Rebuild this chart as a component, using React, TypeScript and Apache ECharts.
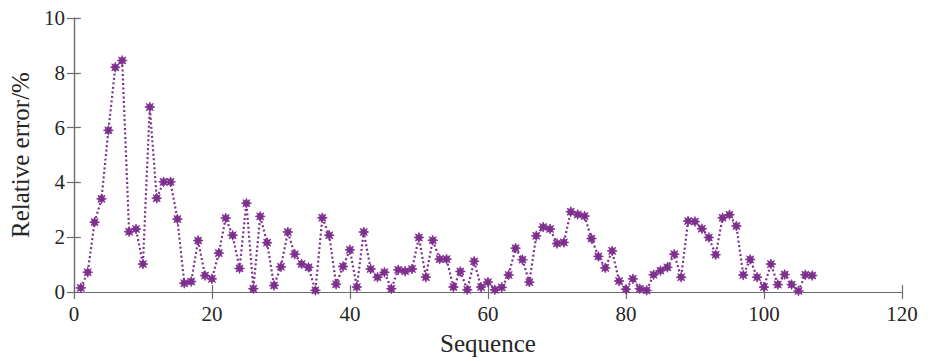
import React, { useEffect, useRef } from "react";
import * as echarts from "echarts";

const sequence: number[] = Array.from({ length: 107 }, (_, i) => i + 1);
const relativeError: number[] = [
  0.15, 0.72, 2.55, 3.4, 5.9, 8.2, 8.45, 2.2, 2.3, 1.02,
  6.75, 3.42, 4.02, 4.02, 2.66, 0.32, 0.38, 1.88, 0.6, 0.48,
  1.42, 2.7, 2.07, 0.86, 3.24, 0.12, 2.76, 1.8, 0.24, 0.92,
  2.19, 1.38, 1.02, 0.9, 0.06, 2.71, 2.07, 0.28, 0.93, 1.54,
  0.18, 2.19, 0.84, 0.54, 0.72, 0.12, 0.81, 0.76, 0.84, 1.99,
  0.54, 1.89, 1.2, 1.2, 0.18, 0.75, 0.08, 1.12, 0.18, 0.36,
  0.08, 0.17, 0.62, 1.6, 1.18, 0.36, 2.05, 2.37, 2.3, 1.77,
  1.81, 2.93, 2.83, 2.77, 1.95, 1.3, 0.88, 1.5, 0.4, 0.1,
  0.48, 0.12, 0.06, 0.63, 0.78, 0.9, 1.38, 0.54, 2.59, 2.57,
  2.31, 1.99, 1.36, 2.71, 2.82, 2.41, 0.62, 1.19, 0.54, 0.18,
  1.02, 0.27, 0.64, 0.27, 0.04, 0.63, 0.6,
];
const xTicks = { min: 0, max: 120, interval: 20 };
const yTicks = { min: 0, max: 10, interval: 2 };

function starPath(): string {
  const pts: string[] = [];
  const n = 8;
  for (let i = 0; i < n * 2; i++) {
    const r = i % 2 === 0 ? 10 : 5;
    const a = (Math.PI * i) / n - Math.PI / 2;
    pts.push(`${(r * Math.cos(a)).toFixed(2)},${(r * Math.sin(a)).toFixed(2)}`);
  }
  return "path://M" + pts.join("L") + "Z";
}

export default function App() {
  const ref = useRef<HTMLDivElement>(null);
  useEffect(() => {
    if (!ref.current) return;
    const chart = echarts.init(ref.current, undefined, { renderer: "svg" });
    const purple = "#7E2F8E";
    const axisColor = "#6b6b6b";
    const font = "Liberation Serif";
    const lineStyle = { color: axisColor, width: 1.2 };
    chart.setOption({
      animation: false,
      backgroundColor: "#ffffff",
      grid: { left: 73, right: 32, top: 18, bottom: 66 },
      xAxis: [
        {
          type: "value", ...xTicks, position: "bottom",
          axisLine: { show: true, lineStyle },
          axisTick: { show: true, inside: true, length: 7, lineStyle },
          splitLine: { show: false },
          axisLabel: { color: "#262626", fontSize: 21, fontFamily: font, margin: 11 },
          name: "Sequence", nameLocation: "middle", nameGap: 39,
          nameTextStyle: { color: "#262626", fontSize: 25, fontFamily: font },
        },
        {
          type: "value", ...xTicks, position: "top",
          axisLine: { show: true, lineStyle },
          axisTick: { show: true, inside: true, length: 7, lineStyle },
          splitLine: { show: false },
          axisLabel: { show: false },
        },
      ],
      yAxis: [
        {
          type: "value", ...yTicks, position: "left",
          axisLine: { show: true, lineStyle },
          axisTick: { show: true, inside: true, length: 7, lineStyle },
          splitLine: { show: false },
          axisLabel: { color: "#262626", fontSize: 21, fontFamily: font, margin: 9 },
          name: "Relative error/%", nameLocation: "middle", nameGap: 31,
          nameTextStyle: { color: "#262626", fontSize: 25, fontFamily: font },
        },
        {
          type: "value", ...yTicks, position: "right",
          axisLine: { show: true, lineStyle },
          axisTick: { show: true, inside: true, length: 7, lineStyle },
          splitLine: { show: false },
          axisLabel: { show: false },
        },
      ],
      series: [
        {
          type: "line",
          xAxisIndex: 0,
          yAxisIndex: 0,
          data: sequence.map((s, i) => [s, relativeError[i]]),
          lineStyle: { color: purple, width: 2.2, type: [2, 2.5] },
          symbol: starPath(),
          symbolSize: 10,
          itemStyle: { color: purple, borderColor: purple, borderWidth: 0.8 },
        },
      ],
    });
    return () => chart.dispose();
  }, []);
  return <div ref={ref} style={{ width: 934, height: 361, position: "absolute", left: 0, top: 0 }} />;
}
